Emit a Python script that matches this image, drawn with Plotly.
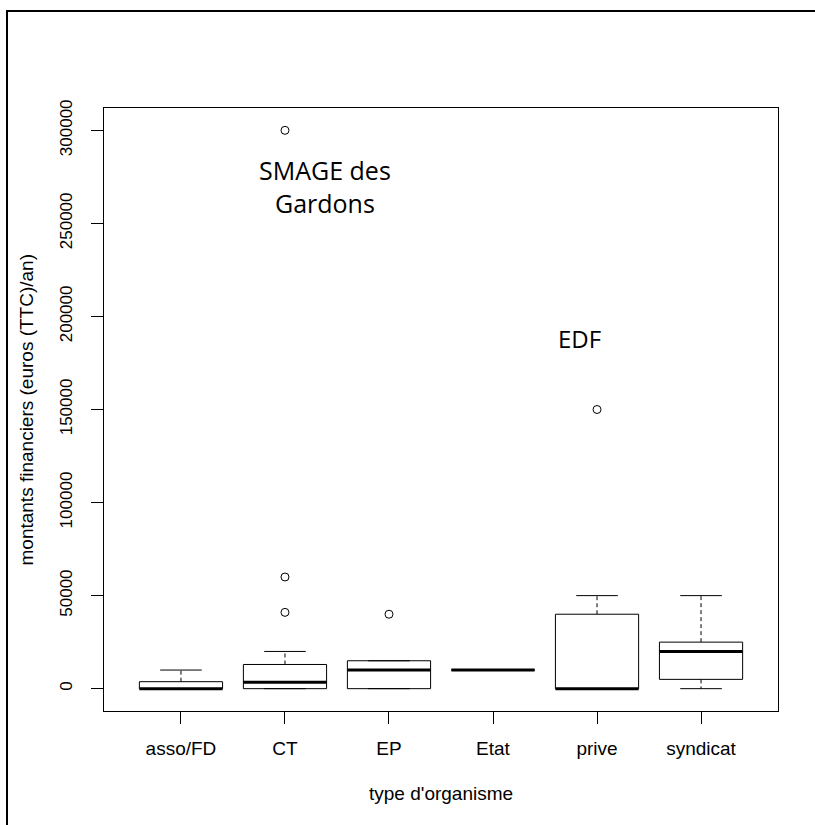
import plotly.graph_objects as go

# ---- data ----
categories = ["asso/FD", "CT", "EP", "Etat", "prive", "syndicat"]
lower_whisker = [0, 0, 0, 10000, 0, 0]
q1 = [0, 0, 0, 10000, 0, 5000]
median = [0, 3500, 10000, 10000, 0, 20000]
q3 = [3750, 13000, 15000, 10000, 40000, 25000]
upper_whisker = [10000, 20000, 15000, 10000, 50000, 50000]
outlier_cat = ["CT", "CT", "CT", "EP", "prive"]
outlier_val = [300000, 60000, 41000, 40000, 150000]
y_ticks = [0, 50000, 100000, 150000, 200000, 250000, 300000]

# ---- geometry helpers ----
BOX_HALF = 0.4
STAPLE_HALF = 0.2
pos = {c: i + 1 for i, c in enumerate(categories)}

bx, by, mx, my, wx, wy, sx, sy = [], [], [], [], [], [], [], []
for i, c in enumerate(categories):
    p = pos[c]
    bx += [p - BOX_HALF, p + BOX_HALF, p + BOX_HALF, p - BOX_HALF, p - BOX_HALF, None]
    by += [q1[i], q1[i], q3[i], q3[i], q1[i], None]
    mx += [p - BOX_HALF, p + BOX_HALF, None]
    my += [median[i], median[i], None]
    wx += [p, p, None, p, p, None]
    wy += [q3[i], upper_whisker[i], None, q1[i], lower_whisker[i], None]
    sx += [p - STAPLE_HALF, p + STAPLE_HALF, None, p - STAPLE_HALF, p + STAPLE_HALF, None]
    sy += [upper_whisker[i], upper_whisker[i], None, lower_whisker[i], lower_whisker[i], None]

fig = go.Figure()
fig.add_trace(go.Scatter(x=wx, y=wy, mode="lines",
                         line=dict(color="black", width=1, dash="4px,3px"),
                         hoverinfo="skip", showlegend=False))
fig.add_trace(go.Scatter(x=sx, y=sy, mode="lines",
                         line=dict(color="black", width=1),
                         hoverinfo="skip", showlegend=False))
fig.add_trace(go.Scatter(x=bx, y=by, mode="lines",
                         line=dict(color="black", width=1),
                         hoverinfo="skip", showlegend=False))
fig.add_trace(go.Scatter(x=mx, y=my, mode="lines",
                         line=dict(color="black", width=3),
                         hoverinfo="skip", showlegend=False))
fig.add_trace(go.Scatter(x=[pos[c] for c in outlier_cat], y=outlier_val,
                         mode="markers",
                         marker=dict(symbol="circle-open", size=8, color="black",
                                     line=dict(width=1, color="black")),
                         showlegend=False))

# ---- layout ----
W, H = 815, 825
ML, MR, MT, MB = 104, 37, 108, 114
PW, PH = W - ML - MR, H - MT - MB

def px_x(px):
    return (px - ML) / PW

def px_y(py):
    return (H - MB - py) / PH

font_family = "Liberation Sans, Arial, sans-serif"

fig.update_layout(
    width=W, height=H,
    margin=dict(l=ML, r=MR, t=MT, b=MB, pad=0),
    paper_bgcolor="white", plot_bgcolor="white",
    font=dict(family=font_family, color="black", size=19),
    showlegend=False,
    xaxis=dict(
        range=[0.26, 6.74],
        tickvals=[pos[c] for c in categories],
        ticktext=categories,
        showgrid=False, zeroline=False,
        showline=True, mirror=True, linecolor="black", linewidth=1,
        ticks="outside", ticklen=12, tickcolor="black", tickwidth=1,
        tickfont=dict(size=19, family=font_family, color="black"),
        ticklabelstandoff=8,
    ),
    yaxis=dict(
        range=[-12000, 312000],
        tickvals=y_ticks,
        ticktext=[str(v) for v in y_ticks],
        tickangle=-90,
        showgrid=False, zeroline=False,
        showline=True, mirror=True, linecolor="black", linewidth=1,
        ticks="outside", ticklen=12, tickcolor="black", tickwidth=1,
        tickfont=dict(size=17, family=font_family, color="black"),
        ticklabelstandoff=12,
    ),
    annotations=[
        dict(text="type d'organisme", xref="paper", yref="paper",
             x=0.5, y=px_y(793), showarrow=False, xanchor="center", yanchor="middle",
             font=dict(size=19, family=font_family, color="black")),
        dict(text="montants financiers (euros (TTC)/an)", xref="paper", yref="paper",
             x=px_x(26), y=0.5, textangle=-90, showarrow=False,
             xanchor="center", yanchor="middle",
             font=dict(size=19, family=font_family, color="black")),
        dict(text="SMAGE des<br>Gardons", xref="paper", yref="paper",
             x=px_x(325), y=px_y(186), showarrow=False, xanchor="center", yanchor="middle",
             align="center",
             font=dict(size=25, family="Open Sans, sans-serif", color="black")),
        dict(text="EDF", xref="paper", yref="paper",
             x=px_x(579), y=px_y(338), showarrow=False, xanchor="center", yanchor="middle",
             font=dict(size=24, family="Open Sans, sans-serif", color="black")),
    ],
    shapes=[
        dict(type="rect", xref="paper", yref="paper",
             x0=px_x(7), y0=px_y(H + 20), x1=px_x(W + 20), y1=px_y(11),
             line=dict(color="black", width=2), fillcolor="rgba(0,0,0,0)", layer="above"),
    ],
)

fig.write_html("out.html")
